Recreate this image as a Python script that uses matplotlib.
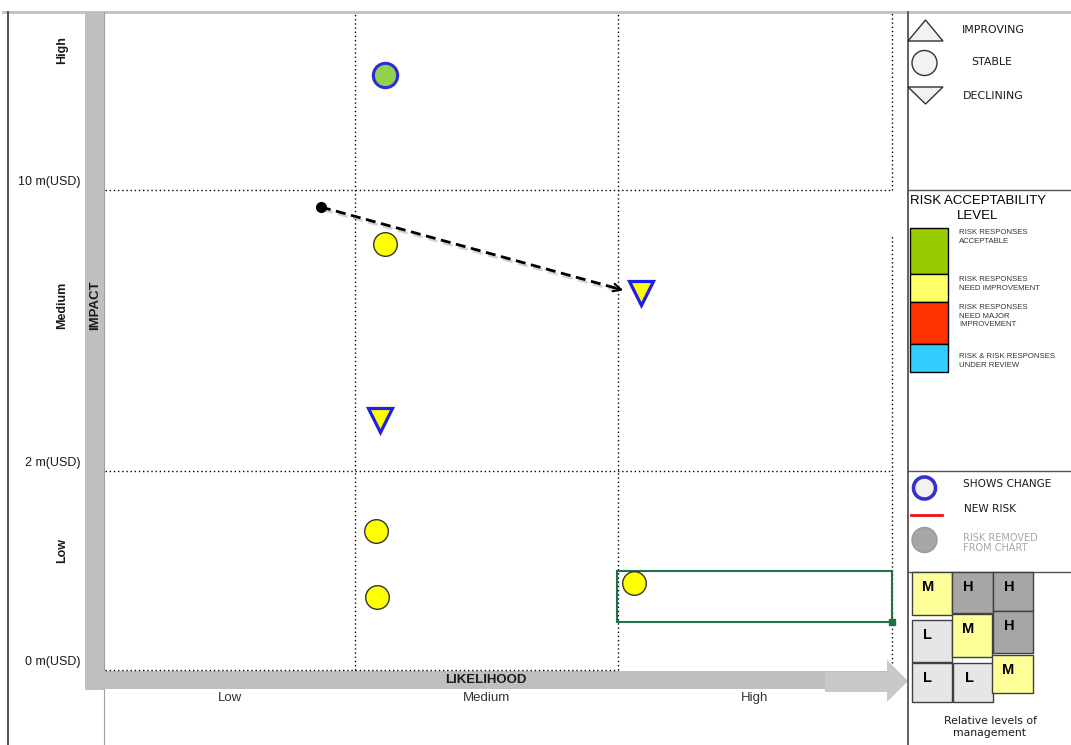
import matplotlib
matplotlib.use("Agg")
import matplotlib.pyplot as plt
import matplotlib.patheffects as pe
from matplotlib.patches import Rectangle, Polygon, Circle

# ----- risk data (likelihood / impact scores on a 0..3 scale) -----
likelihood_edges = [0.0, 0.953, 1.956, 3.0]
impact_edges = [0.0, 0.907, 2.188, 3.0]
likelihood_labels = ["Low", "Medium", "High"]
impact_labels = ["Low", "Medium", "High"]
impact_ticks = ["0 m(USD)", "2 m(USD)", "10 m(USD)"]

risk_x = [1.067, 1.067, 2.043, 1.048, 1.033, 1.037, 2.017]
risk_y = [2.713, 1.942, 1.719, 1.140, 0.634, 0.333, 0.397]
risk_shape = ["o", "o", "v", "v", "o", "o", "o"]
risk_fill = ["#92d050", "#ffff00", "#ffff00", "#ffff00", "#ffff00", "#ffff00", "#ffff00"]
risk_changed = [True, False, True, True, False, False, False]

move_from = (0.823, 2.111)
move_to = (1.986, 1.728)
selected = (1.952, 0.219, 3.0, 0.451)   # x0, y0, x1, y1

accept_labels = ["RISK RESPONSES\nACCEPTABLE", "RISK RESPONSES\nNEED IMPROVEMENT",
                 "RISK RESPONSES\nNEED MAJOR\nIMPROVEMENT", "RISK & RISK RESPONSES\nUNDER REVIEW"]
accept_colors = ["#99cc00", "#ffff66", "#ff3300", "#33ccff"]

mgmt_letters = ["M", "H", "H", "L", "M", "H", "L", "L", "M"]

W, H = 1071, 745
fig = plt.figure(figsize=(W / 100, H / 100), dpi=100)

# overlay in pixel coordinates for frame, bars and legend
ax = fig.add_axes([0, 0, 1, 1])
ax.set_xlim(0, W)
ax.set_ylim(H, 0)
ax.axis("off")

# plot area
px0, px1, py_top, py_bot = 105, 892, 12, 670
axp = fig.add_axes([px0 / W, (H - py_bot) / H, (px1 - px0) / W, (py_bot - py_top) / H])
axp.set_xlim(0, 3)
axp.set_ylim(0, 3)
axp.axis("off")
axp.patch.set_alpha(0)

FONT = "DejaVu Sans"
ARIAL = "Liberation Sans"

# ----- frame lines -----
ax.plot([3, W], [12, 12], color="#c0c0c0", lw=2, zorder=1)
ax.plot([8, 8], [12, H], color="#333333", lw=1.2, zorder=1)
ax.plot([104, 104], [12, H], color="#a0a0a0", lw=0.8, zorder=1)
ax.plot([908, 908], [12, H], color="#555555", lw=1.3, zorder=3)
for yy in (190, 471, 572):
    ax.plot([908, W], [yy, yy], color="#555555", lw=1.0, zorder=3)

# ----- gray axis bars -----
ax.add_patch(Rectangle((85, 12), 19, 678, fc="#bfbfbf", ec="none", zorder=2))
ax.add_patch(Rectangle((85, 671), 802, 18, fc="#bfbfbf", ec="none", zorder=2))
ax.add_patch(Polygon([(825, 672), (887, 672), (887, 660), (908, 681), (887, 702),
                      (887, 692), (825, 692)], closed=True, fc="#c8c8c8", ec="none", zorder=2))
ax.text(486, 680, "LIKELIHOOD", ha="center", va="center", fontsize=9.5,
        fontweight="bold", family=ARIAL, color="#1a1a1a", zorder=4)
ax.text(95, 305, "IMPACT", ha="center", va="center", rotation=90, fontsize=9.5,
        fontweight="bold", family=ARIAL, color="#1a1a1a", zorder=4)

# ----- grid of bands (dotted) -----
dot = dict(color="black", lw=1, linestyle=(0, (1, 2)), zorder=3, clip_on=False)
xe, ye = likelihood_edges, impact_edges
axp.plot([xe[1], xe[1]], [ye[0], ye[3]], **dot)
axp.plot([xe[2], xe[2]], [ye[0], ye[3]], **dot)
axp.plot([xe[0], xe[3]], [ye[1], ye[1]], **dot)
axp.plot([xe[0], xe[3]], [ye[2], ye[2]], **dot)
axp.plot([xe[0], xe[2]], [ye[0], ye[0]], **dot)
axp.plot([xe[3], xe[3]], [ye[2], ye[3]], **dot)
axp.plot([xe[3], xe[3]], [0.03, 1.98], **dot)

# band labels
for i, lab in enumerate(likelihood_labels):
    cx = (xe[i] + xe[i + 1]) / 2
    axp.text(cx, -0.128, lab, ha="center", va="center", fontsize=9.5,
             family=ARIAL, color="#333333", clip_on=False)
impact_label_y = [0.545, 1.664, 2.826]
for lab, yy in zip(impact_labels, impact_label_y):
    axp.text(-0.164, yy, lab, ha="center", va="center", rotation=90, fontsize=9,
             fontweight="bold", family=ARIAL, color="#1a1a1a", clip_on=False)
for lab, yy in zip(impact_ticks, ye):
    axp.text(-0.092, yy + 0.036, lab, ha="right", va="center", fontsize=9,
             family=ARIAL, color="#1a1a1a", clip_on=False)

# selected cell outline
sx0, sy0, sx1, sy1 = selected
axp.add_patch(Rectangle((sx0, sy0), sx1 - sx0, sy1 - sy0, fc="none",
                        ec="#217346", lw=1.5, zorder=4, clip_on=False))
axp.plot([sx1], [sy0], marker="s", ms=4, color="#217346", zorder=5, clip_on=False)

# movement arrow
shadow = [pe.SimpleLineShadow(offset=(1.5, -2), alpha=0.25, shadow_color="#555555"), pe.Normal()]
axp.plot([move_from[0], move_to[0] - 0.02], [move_from[1], move_to[1] + 0.007],
         color="black", lw=2, dashes=(3.6, 2.0), zorder=5, path_effects=shadow)
axp.annotate("", xy=move_to, xytext=(move_to[0] - 0.06, move_to[1] + 0.02),
             arrowprops=dict(arrowstyle="->", color="black", lw=1.5,
                             mutation_scale=14), zorder=5)
axp.plot([move_from[0]], [move_from[1]], "o", ms=7, color="black", zorder=6)

# risk markers
for x, y, m, c, ch in zip(risk_x, risk_y, risk_shape, risk_fill, risk_changed):
    if m == "v":
        axp.plot([x], [y], marker="v", ms=17, mfc=c, mec="#1f1fe6", mew=2.3, zorder=6)
    elif ch:
        axp.plot([x], [y], marker="o", ms=17.5, mfc=c, mec="#2b2bd9", mew=2.2, zorder=6)
    else:
        axp.plot([x], [y], marker="o", ms=17, mfc=c, mec="#333333", mew=1, zorder=6)

# ----- legend: trend shapes -----
ax.add_patch(Polygon([(908, 41), (925.5, 20), (943, 41)], closed=True,
                     fc="#f2f2f2", ec="#333333", lw=1, zorder=4))
ax.add_patch(Circle((924.5, 63), 12.5, fc="#f2f2f2", ec="#333333", lw=1, zorder=4))
ax.add_patch(Polygon([(908, 87), (925.5, 104), (943, 87)], closed=True,
                     fc="#f2f2f2", ec="#333333", lw=1, zorder=4))
for txt, tx, ty in [("IMPROVING", 993, 30), ("STABLE", 992, 62), ("DECLINING", 993, 96)]:
    ax.text(tx, ty, txt, ha="center", va="center", fontsize=7.9, family=FONT,
            color="#1a1a1a", zorder=4)

# ----- legend: acceptability -----
ax.text(910, 201, "RISK ACCEPTABILITY", ha="left", va="center", fontsize=9.5,
        family=ARIAL, color="black", zorder=4)
ax.text(978, 216, "LEVEL", ha="center", va="center", fontsize=9.5,
        family=ARIAL, color="black", zorder=4)
box_y = [228, 274, 302, 344, 372]
label_y = [237, 284, 316, 361]
for i, (lab, col) in enumerate(zip(accept_labels, accept_colors)):
    ax.add_patch(Rectangle((910, box_y[i]), 38, box_y[i + 1] - box_y[i], fc=col,
                           ec="black", lw=1, zorder=4))
    ax.text(959, label_y[i], lab, ha="left", va="center", fontsize=5.6,
            family=ARIAL, color="#333333", linespacing=1.25, zorder=4)

# ----- legend: change markers -----
ax.add_patch(Circle((924.5, 488), 11, fc="#f2f2f2", ec="#3333cc", lw=2.6, zorder=4))
ax.text(963, 484, "SHOWS CHANGE", ha="left", va="center", fontsize=7.6,
        family=FONT, color="#1a1a1a", zorder=4)
ax.plot([911, 942], [515, 515], color="#ee1111", lw=2, zorder=4)
ax.text(964, 509, "NEW RISK", ha="left", va="center", fontsize=7.6,
        family=FONT, color="#1a1a1a", zorder=4)
ax.add_patch(Circle((924.5, 540), 12.5, fc="#a6a6a6", ec="#999999", lw=1, zorder=4))
ax.text(963, 543, "RISK REMOVED\nFROM CHART", ha="left", va="center", fontsize=7.0,
        family=FONT, color="#a6a6a6", linespacing=1.1, zorder=4)

# ----- management level matrix -----
cells = [(912, 572, 40, 43), (952, 572, 41, 41), (993, 572, 40, 39),
         (912, 620, 40, 42), (952, 614, 40, 43), (993, 611, 40, 42),
         (912, 663, 40, 39), (953, 663, 40, 39), (992, 655, 41, 38)]
shade = {"L": "#e6e6e6", "M": "#ffff99", "H": "#a6a6a6"}
for (cx, cy, cw, chh), letter in zip(cells, mgmt_letters):
    ax.add_patch(Rectangle((cx, cy), cw, chh, fc=shade[letter], ec="#404040",
                           lw=1, zorder=4))
    ax.text(cx + 16, cy + 15, letter, ha="center", va="center", fontsize=10.5,
            fontweight="bold", family=ARIAL, color="black", zorder=5)
ax.text(990, 727, "Relative levels of\nmanagement", ha="center", va="center",
        fontsize=7.8, family=FONT, color="#1a1a1a", linespacing=1.3, zorder=4)

fig.savefig("out.png", dpi=100)
